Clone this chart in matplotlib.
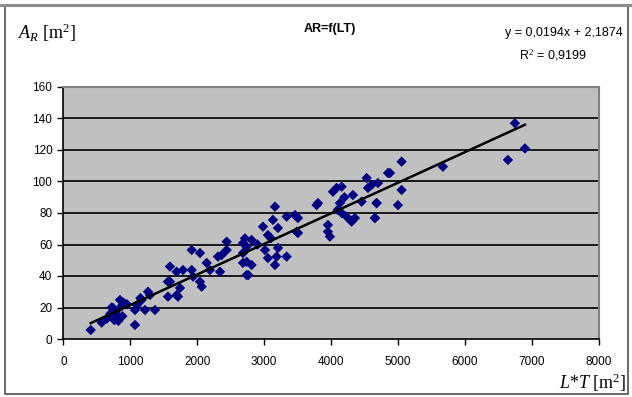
import numpy as np
import matplotlib
matplotlib.use("Agg")
import matplotlib.pyplot as plt
from matplotlib.patches import Rectangle
from matplotlib.lines import Line2D

plt.rcParams['font.family'] = ['Liberation Sans', 'DejaVu Sans']
plt.rcParams['mathtext.fontset'] = 'custom'
plt.rcParams['mathtext.rm'] = 'Liberation Serif'
plt.rcParams['mathtext.it'] = 'Liberation Serif:italic'

# L*T [m2] versus A_R [m2]
lt = [407, 571, 650, 700, 740, 760, 800, 845, 870, 900, 780, 820, 880, 950, 720,
      1069, 1069, 1169, 1264, 1219, 1368, 1100, 1150, 1293,
      1592, 1592, 1562, 1692, 1692, 1562, 1712, 1742, 1787, 1917, 2041, 1917, 1937,
      2041, 2066, 2141, 2190, 2310, 2340, 2440, 2440, 2684, 2739, 2739, 2684,
      2365, 2713, 2813, 2739, 2684, 2813, 2763, 3162, 3132, 2983, 3057, 3207,
      3337, 3486, 3506, 3207, 3187, 3162, 3337, 3013, 3057, 3785, 2900, 3100,
      3461, 3506, 3486, 3805, 3954, 3954, 3984, 4084, 4159, 4029, 4133, 4159,
      4233, 4308, 4358, 4328, 4458, 4533, 4553, 4607, 4702, 4682, 4657, 4852,
      4882, 5056, 5056, 4682, 5001, 4657, 5673, 6750, 6900, 6645, 4100, 4200]
ar = [5.7, 10.4, 13.0, 16.0, 19.7, 12.0, 15.0, 24.8, 21.0, 23.0, 17.5, 11.5, 14.5, 22.0, 20.0,
      8.9, 18.4, 24.8, 30.0, 18.4, 18.4, 21.5, 26.0, 27.9,
      46.0, 36.4, 26.9, 27.9, 42.7, 36.4, 26.9, 32.4, 43.8, 56.5, 54.6, 43.8, 39.6,
      36.4, 33.2, 48.3, 43.8, 52.3, 42.7, 61.8, 56.5, 54.6, 49.0, 40.6, 60.9,
      53.3, 63.9, 62.9, 58.6, 48.3, 47.0, 40.6, 84.0, 75.6, 71.3, 66.0, 70.5,
      77.7, 77.7, 67.3, 57.8, 52.3, 47.0, 52.3, 56.5, 51.4, 85.0, 60.0, 64.0,
      78.7, 76.8, 68.1, 86.3, 72.4, 68.1, 65.0, 95.9, 96.7, 93.5, 86.3, 80.0,
      77.7, 74.5, 76.8, 91.4, 87.2, 102.2, 95.9, 97.8, 99.0, 86.3, 76.8, 105.4,
      105.4, 112.6, 94.6, 86.3, 85.0, 76.8, 109.4, 137.0, 121.0, 113.7, 82.0, 90.0]

# linear trend line coefficients
slope = 0.0194
intercept = 2.1874
r_squared = 0.9199

x_ticks = [0, 1000, 2000, 3000, 4000, 5000, 6000, 7000, 8000]
y_ticks = [0, 20, 40, 60, 80, 100, 120, 140, 160]

fig = plt.figure(figsize=(6.32, 3.97), dpi=100)
fig.patch.set_facecolor('white')

# outer chart frame
fig.add_artist(Rectangle((4.5 / 632, 3.5 / 397), 623 / 632, 388 / 397,
                         transform=fig.transFigure, fill=False,
                         edgecolor='#505050', linewidth=1.2))
fig.add_artist(Line2D([0, 1], [1 - 5 / 397, 1 - 5 / 397], transform=fig.transFigure,
                      color='#8c8c8c', linewidth=2.2))

ax = fig.add_axes([63.5 / 632, 1 - 339 / 397, 535 / 632, 252 / 397])
ax.set_facecolor('#c0c0c0')
ax.set_xlim(0, 8000)
ax.set_ylim(0, 160)
ax.set_xticks(x_ticks)
ax.set_yticks(y_ticks)
ax.set_xticklabels([str(v) for v in x_ticks])
ax.set_yticklabels([str(v) for v in y_ticks])
ax.tick_params(direction='out', length=4, width=1, colors='black',
               labelsize=8.5, pad=4)
ax.tick_params(axis='x', pad=8)

for v in y_ticks[1:-1]:
    ax.axhline(v, color='#1a1a1a', linewidth=1.4, zorder=1)

for side in ('left', 'bottom'):
    ax.spines[side].set_color('black')
    ax.spines[side].set_linewidth(1.2)
for side in ('top', 'right'):
    ax.spines[side].set_color('#808080')
    ax.spines[side].set_linewidth(1.5)

ax.scatter(lt, ar, marker='D', s=28, color='#000080', edgecolors='none', zorder=3)

x_line = np.array([min(lt), max(lt)])
ax.plot(x_line, slope * x_line + intercept, color='black', linewidth=1.8, zorder=4)

serif = ['Liberation Serif', 'DejaVu Serif']
fig.text(18 / 632, 1 - 33 / 397, r'$A_R$ [m$^2$]', fontsize=13, va='center',
         ha='left', family=serif)
fig.text(330 / 632, 1 - 29 / 397, 'AR=f(LT)', fontsize=9, fontweight='bold',
         va='center', ha='center')
eq = 'y = {}x + {}'.format(f'{slope:.4f}'.replace('.', ','),
                           f'{intercept:.4f}'.replace('.', ','))
fig.text(623 / 632, 1 - 33 / 397, eq, fontsize=9, va='center', ha='right')
fig.text(553 / 632, 1 - 55 / 397,
         'R$^2$ = ' + f'{r_squared:.4f}'.replace('.', ','),
         fontsize=9, va='center', ha='center')
fig.text(626 / 632, 1 - 383 / 397, r'$L$*$T$ [m$^2$]', fontsize=13,
         va='center', ha='right', family=serif)

fig.savefig('out.png', dpi=100)
